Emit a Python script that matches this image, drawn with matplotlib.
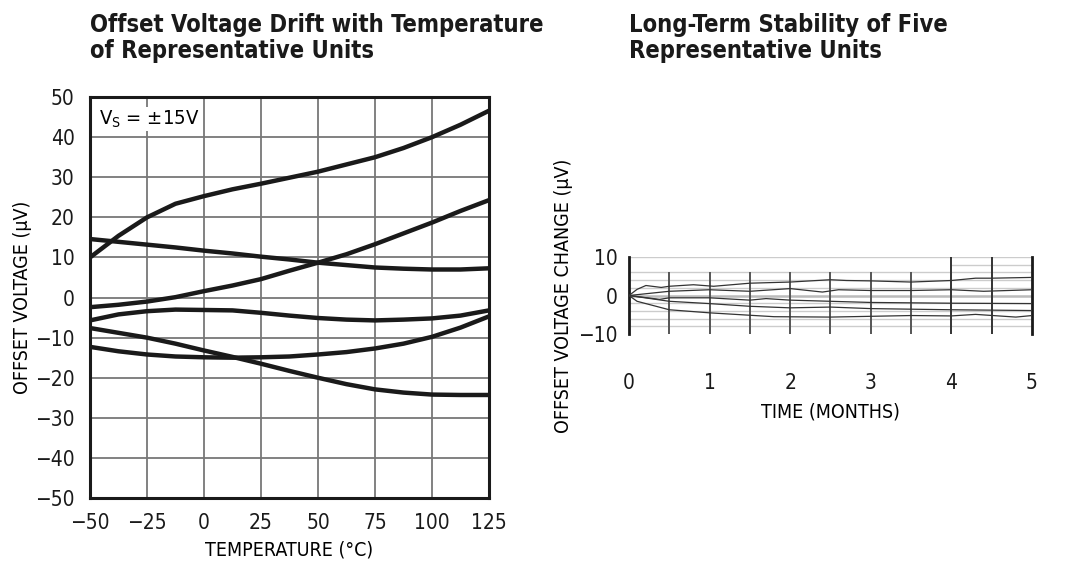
"""Deux graphes : derive de l'offset en temperature et stabilite long terme."""

import matplotlib
matplotlib.use("Agg")
import matplotlib.pyplot as plt

# --- Donnees : derive en temperature (6 unites) ------------------------------
temp = [-50, -37.5, -25, -12.5, 0, 12.5, 25, 37.5, 50, 62.5, 75, 87.5, 100, 112.5, 125]
unit1 = [10, 15.4, 20, 23.4, 25.3, 27.0, 28.4, 29.9, 31.4, 33.2, 35.0, 37.3, 40.0, 43.1, 46.6]
unit2 = [14.6, 13.9, 13.2, 12.5, 11.7, 11.0, 10.2, 9.5, 8.7, 8.1, 7.5, 7.2, 7.0, 7.0, 7.3]
unit3 = [-2.4, -1.8, -1.0, 0.1, 1.6, 3.0, 4.6, 6.7, 8.7, 10.8, 13.3, 16.0, 18.7, 21.6, 24.3]
unit4 = [-5.7, -4.2, -3.4, -3.0, -3.1, -3.2, -3.8, -4.5, -5.1, -5.5, -5.7, -5.5, -5.2, -4.5, -3.2]
unit5 = [-7.6, -8.8, -10.0, -11.5, -13.2, -14.8, -16.5, -18.3, -20.0, -21.6, -22.9, -23.7, -24.2, -24.3, -24.3]
unit6 = [-12.3, -13.4, -14.2, -14.7, -14.9, -15.0, -14.9, -14.7, -14.2, -13.6, -12.7, -11.5, -9.8, -7.5, -4.7]
temp_ticks = [-50, -25, 0, 25, 50, 75, 100, 125]
volt_ticks = [-50, -40, -30, -20, -10, 0, 10, 20, 30, 40, 50]

# --- Donnees : stabilite long terme (5 unites) -------------------------------
tA = [0, 0.1, 0.21, 0.4, 0.5, 0.8, 1.05, 1.5, 2.0, 2.5, 2.7, 3.0, 3.5, 4.0, 4.3, 4.5, 5.0]
vA = [0, 1.6, 2.6, 2.1, 2.4, 2.8, 2.4, 3.2, 3.5, 4.1, 3.9, 3.8, 3.5, 3.9, 4.5, 4.5, 4.7]
tB = [0, 0.5, 1.0, 1.5, 2.0, 2.4, 2.6, 3.0, 3.5, 4.0, 4.4, 5.0]
vB = [0, 1.1, 1.5, 1.1, 1.8, 0.9, 1.5, 1.3, 1.3, 1.5, 1.1, 1.5]
tC = [0, 0.38, 0.5, 1.0, 1.5, 1.7, 2.0, 3.0, 4.0, 5.0]
vC = [0, -1.0, -0.6, -0.6, -1.2, -0.8, -1.2, -1.8, -2.0, -2.1]
tD = [0, 0.5, 1.0, 1.5, 2.0, 2.5, 3.0, 4.0, 5.0]
vD = [0, -1.5, -2.1, -2.8, -3.2, -3.0, -3.4, -3.7, -3.9]
tE = [0, 0.1, 0.5, 1.0, 1.8, 2.5, 3.5, 4.0, 4.3, 4.8, 5.0]
vE = [0, -1.5, -3.7, -4.5, -5.5, -5.6, -5.2, -5.3, -4.9, -5.6, -5.2]
month_ticks = [0, 1, 2, 3, 4, 5]

plt.rcParams["font.family"] = ["DejaVu Sans"]
plt.rcParams["font.stretch"] = "condensed"
plt.rcParams["axes.unicode_minus"] = True

fig = plt.figure(figsize=(10.65, 5.76), dpi=100)

# 1) Graphe de gauche ---------------------------------------------------------
ax = fig.add_axes([0.0845, 0.1354, 0.3746, 0.696])
for y in unit1, unit2, unit3, unit4, unit5, unit6:
    ax.plot(temp, y, color="#1a1a1a", lw=3.2, solid_capstyle="butt", zorder=3)
ax.set_xlim(-50, 125)
ax.set_ylim(-50, 50)
ax.set_xticks(temp_ticks)
ax.set_yticks(volt_ticks)
ax.grid(True, color="#777777", lw=1.3)
ax.tick_params(length=0, labelsize=15, colors="#1a1a1a", pad=11)
for s in ax.spines.values():
    s.set_linewidth(2.2)
    s.set_color("#1a1a1a")
ax.set_xlabel("TEMPERATURE (°C)", fontsize=14, labelpad=5)
ax.set_ylabel("OFFSET VOLTAGE (µV)", fontsize=14, labelpad=2)
ax.text(-46, 44.5, r"V$_\mathregular{S}$ = ±15V", fontsize=14.5, va="center",
        ha="left", zorder=4,
        bbox=dict(facecolor="white", edgecolor="none", pad=1))
fig.text(0.0845, 0.978, "Offset Voltage Drift with Temperature\nof Representative Units",
         fontsize=17, fontweight="bold", va="top", ha="left", linespacing=1.12,
         color="#1a1a1a")

# 2) Graphe de droite ---------------------------------------------------------
bx = fig.add_axes([0.5906, 0.4201, 0.3784, 0.1337])
bx.set_xlim(0, 5)
bx.set_ylim(-10, 10)
for yy in [-8, -6, -4, -2, 2, 4, 6, 10]:
    bx.axhline(yy, color="#cccccc", lw=1.0, zorder=1)
bx.axhline(0, color="#bbbbbb", lw=1.8, zorder=1)
bx.hlines(8, 4, 5, color="#cccccc", lw=1.0, zorder=1)
bx.vlines([0.5, 1, 1.5, 2, 2.5, 3, 3.5], -10, 6.2, color="#555555", lw=1.4, zorder=2)
bx.vlines([4, 4.5], -10, 10, color="#333333", lw=1.4, zorder=2)
for t, v in (tA, vA), (tB, vB), (tC, vC), (tD, vD), (tE, vE):
    bx.plot(t, v, color="#333333", lw=0.9, zorder=3)
bx.set_xticks(month_ticks)
bx.set_yticks([-10, 0, 10])
bx.tick_params(length=0, labelsize=15, colors="#1a1a1a", pad=8)
bx.tick_params(axis="x", pad=28)
bx.spines["top"].set_visible(False)
bx.spines["bottom"].set_visible(False)
for side in "left", "right":
    bx.spines[side].set_linewidth(2.0)
    bx.spines[side].set_color("#1a1a1a")
bx.set_xlabel("TIME (MONTHS)", fontsize=14, labelpad=7)
bx.set_ylabel("OFFSET VOLTAGE CHANGE (µV)", fontsize=14, labelpad=4)
fig.text(0.5906, 0.978, "Long-Term Stability of Five\nRepresentative Units",
         fontsize=17, fontweight="bold", va="top", ha="left", linespacing=1.12,
         color="#1a1a1a")

fig.savefig("out.png", dpi=100)
